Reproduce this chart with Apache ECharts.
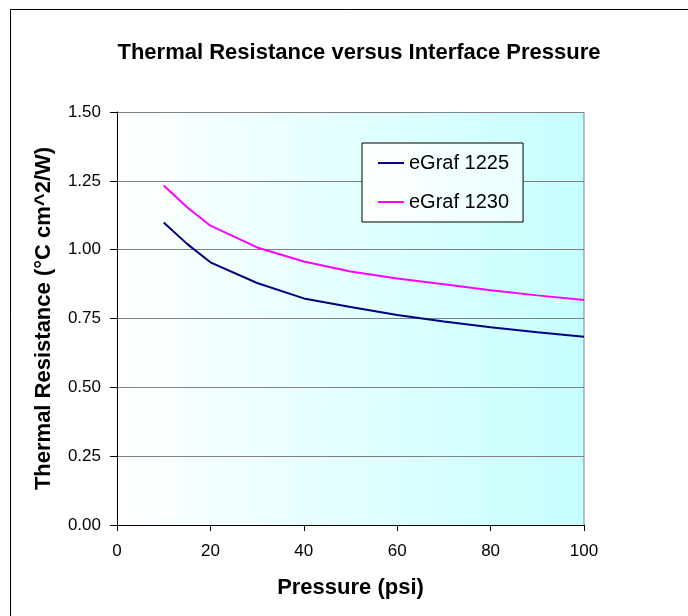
<!DOCTYPE html>
<html>
<head>
<meta charset="utf-8">
<style>
  html, body { margin: 0; padding: 0; background: #fff; }
  #chart { width: 688px; height: 616px; }
</style>
<script src="https://cdn.jsdelivr.net/npm/echarts@6/dist/echarts.min.js"></script>
</head>
<body>
<div id="chart"></div>
<script>
const pressures = [10, 15, 20, 30, 40, 50, 60, 70, 80, 90, 100];
const egraf1225 = [1.099, 1.021, 0.954, 0.879, 0.823, 0.792, 0.763, 0.739, 0.718, 0.70, 0.684];
const egraf1230 = [1.233, 1.154, 1.087, 1.008, 0.957, 0.921, 0.895, 0.874, 0.853, 0.834, 0.817];
const seriesNames = ['eGraf 1225', 'eGraf 1230'];

const font = 'Arial, "Liberation Sans", sans-serif';

function toPoints(values) {
    return pressures.map((p, i) => [p, values[i]]);
}

const chart = echarts.init(document.getElementById('chart'));

const plotFill = new echarts.graphic.LinearGradient(0, 0, 1, 0, [
    { offset: 0, color: '#ffffff' },
    { offset: 1, color: '#c6ffff' }
]);

const option = {
    animation: false,
    title: {
        text: 'Thermal Resistance versus Interface Pressure',
        left: 354,
        top: 37,
        textAlign: 'center',
        textStyle: { fontFamily: font, fontSize: 22, fontWeight: 'bold', color: '#000' }
    },
    graphic: [
        {
            // chart frame: only top and left edges fall inside the picture
            type: 'rect',
            shape: { x: 10.5, y: 9.5, width: 720, height: 640 },
            style: { fill: 'none', stroke: '#000', lineWidth: 1 },
            silent: true
        }
    ],
    legend: {
        left: 362,
        top: 143,
        orient: 'vertical',
        itemGap: 19,
        itemWidth: 26,
        itemHeight: 2,
        padding: [10, 14, 10, 16],
        backgroundColor: new echarts.graphic.LinearGradient(0, 0, 1, 0, [
            { offset: 0, color: '#ffffff' },
            { offset: 1, color: '#eaffff' }
        ]),
        borderColor: '#000',
        borderWidth: 1,
        icon: 'rect',
        textStyle: { fontFamily: font, fontSize: 20, color: '#000' },
        data: seriesNames
    },
    grid: {
        left: 117,
        right: 104,
        top: 112,
        bottom: 91,
        show: true,
        backgroundColor: plotFill,
        borderWidth: 0
    },
    xAxis: {
        type: 'value',
        min: 0,
        max: 100,
        interval: 20,
        name: 'Pressure (psi)',
        nameLocation: 'middle',
        nameGap: 52,
        nameTextStyle: { fontFamily: font, fontSize: 22, fontWeight: 'bold', color: '#000' },
        axisLine: { show: true, lineStyle: { color: '#000', width: 1 } },
        axisTick: { show: true, length: 6, lineStyle: { color: '#000' } },
        axisLabel: { fontFamily: font, fontSize: 17, color: '#000', margin: 18 },
        splitLine: { show: false }
    },
    yAxis: {
        type: 'value',
        min: 0,
        max: 1.5,
        interval: 0.25,
        name: 'Thermal Resistance (°C cm^2/W)',
        nameLocation: 'middle',
        nameGap: 62,
        nameTextStyle: { fontFamily: font, fontSize: 22, fontWeight: 'bold', color: '#000' },
        axisLine: { show: true, lineStyle: { color: '#000', width: 1 } },
        axisTick: { show: true, length: 7, lineStyle: { color: '#000' } },
        axisLabel: {
            fontFamily: font, fontSize: 17, color: '#000', margin: 16,
            formatter: v => v.toFixed(2)
        },
        splitLine: { show: true, lineStyle: { color: '#808080', width: 1 } }
    },
    series: [
        {
            name: seriesNames[0],
            type: 'line',
            data: toPoints(egraf1225),
            showSymbol: false,
            lineStyle: { color: '#000080', width: 2 },
            itemStyle: { color: '#000080' },
            z: 3
        },
        {
            name: seriesNames[1],
            type: 'line',
            data: toPoints(egraf1230),
            showSymbol: false,
            lineStyle: { color: '#ff00ff', width: 2 },
            itemStyle: { color: '#ff00ff' },
            z: 3
        },
        {
            // plot area right border
            type: 'line',
            data: [[100, 0], [100, 1.5]],
            showSymbol: false,
            silent: true,
            lineStyle: { color: '#808080', width: 1 },
            z: 1
        }
    ]
};

chart.setOption(option);
</script>
</body>
</html>
